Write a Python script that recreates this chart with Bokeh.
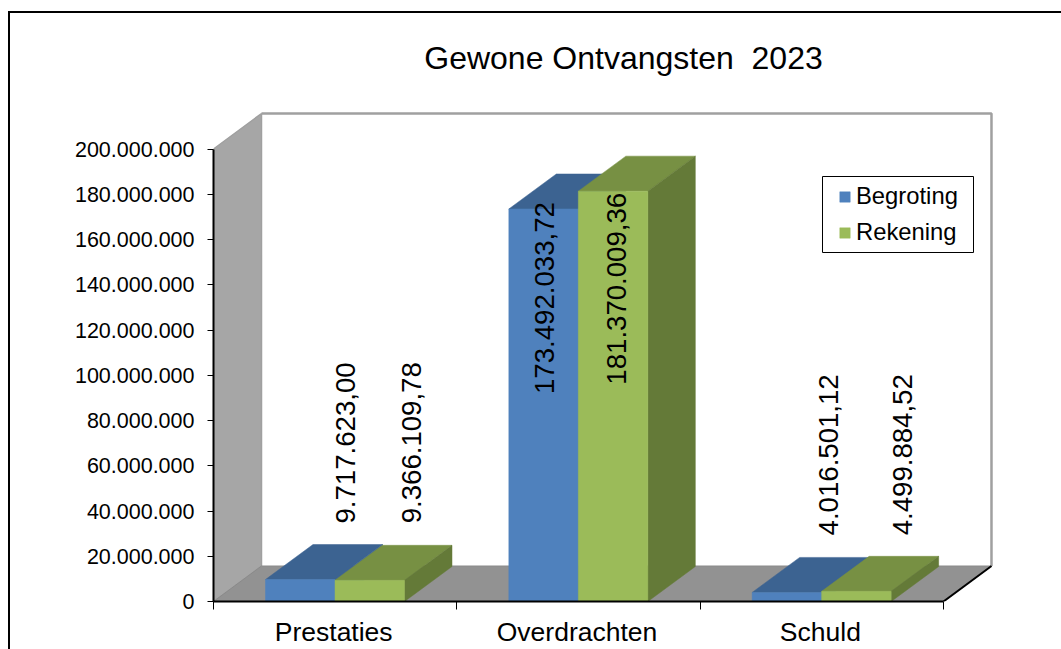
from bokeh.plotting import figure
from bokeh.models import (FixedTicker, Range1d, Legend, LegendItem, InlineStyleSheet)
from bokeh.core.properties import value
from bokeh.embed import file_html
from bokeh.resources import INLINE

# ---- data ----
categories = ["Prestaties", "Overdrachten", "Schuld"]
begroting = [9717623.00, 173492033.72, 4016501.12]
rekening = [9366109.78, 181370009.36, 4499884.52]
y_ticks = [0, 20000000, 40000000, 60000000, 80000000, 100000000,
           120000000, 140000000, 160000000, 180000000, 200000000]
title_text = "Gewone Ontvangsten\u00a0 2023"

# ---- layout (pixels of the page) ----
FONT = "Liberation Sans"
W, H = 1061, 649
LEFT, BOTTOM = 213, 48
PX_PER_CAT = 243.33
PX_PER_Y = 452.5 / 200000000
frame_w, frame_h = W - LEFT, H - BOTTOM
BAR_INSET = 52 / PX_PER_CAT
BAR_W = 69.5 / PX_PER_CAT
DX = 47.5 / PX_PER_CAT
DY = 35.0 / PX_PER_Y
WALL_DX = 48 / PX_PER_CAT
WALL_DY = 35.5 / PX_PER_Y
YMAX = y_ticks[-1]
NCAT = len(categories)

p = figure(width=W, height=H, output_backend="svg", toolbar_location=None,
           x_range=Range1d(0, frame_w / PX_PER_CAT), y_range=Range1d(0, frame_h / PX_PER_Y),
           min_border_left=LEFT, min_border_bottom=BOTTOM, min_border_top=0, min_border_right=0,
           outline_line_color=None, background_fill_color="white", border_fill_color="white")
p.xgrid.visible = False
p.ygrid.visible = False

# outer chart border: only top and left are in the picture
p.stylesheets = [InlineStyleSheet(css=":host::before{content:'';position:absolute;left:8px;top:11px;"
                                      "right:0;bottom:0;border-left:2px solid black;"
                                      "border-top:2px solid black;pointer-events:none;z-index:5}")]

# axes
xa, ya = p.xaxis[0], p.yaxis[0]
ya.ticker = FixedTicker(ticks=y_ticks)
ya.major_label_overrides = {t: f"{t:,}".replace(",", ".") for t in y_ticks}
ya.bounds = (0, YMAX)
ya.axis_line_color = "black"; ya.axis_line_width = 2
ya.major_tick_line_color = "black"; ya.major_tick_line_width = 1
ya.major_tick_out = 6; ya.major_tick_in = 0; ya.minor_tick_line_color = None
ya.major_label_standoff = 13
ya.major_label_text_font = FONT; ya.major_label_text_font_size = "21.5px"
ya.major_label_text_color = "black"

cat_pos = [i + 0.494 for i in range(NCAT)]
xa.ticker = FixedTicker(ticks=cat_pos, minor_ticks=list(range(NCAT + 1)))
xa.major_label_overrides = dict(zip(cat_pos, categories))
xa.bounds = (0, NCAT)
xa.axis_line_color = "black"; xa.axis_line_width = 2
xa.major_tick_line_color = None; xa.major_tick_out = 0; xa.major_tick_in = 0
xa.minor_tick_line_color = "black"; xa.minor_tick_line_width = 1
xa.minor_tick_out = 8; xa.minor_tick_in = 0
xa.major_label_standoff = 7
xa.major_label_text_font = FONT; xa.major_label_text_font_size = "26.5px"
xa.major_label_text_color = "black"
xa.major_label_orientation = "horizontal"

# walls and floor
p.patch([0, WALL_DX, WALL_DX, 0], [0, WALL_DY, YMAX + WALL_DY, YMAX],
        fill_color="#a6a6a6", line_color="#a0a0a0", line_width=1.5)
p.patch([0, WALL_DX, NCAT + WALL_DX, NCAT], [0, WALL_DY, WALL_DY, 0],
        fill_color="#929292", line_color="#8a8a8a", line_width=1)
p.line([WALL_DX, NCAT + WALL_DX, NCAT + WALL_DX],
       [YMAX + WALL_DY, YMAX + WALL_DY, WALL_DY], line_color="#a0a0a0", line_width=2.5)
p.line([NCAT, NCAT + WALL_DX], [0, WALL_DY], line_color="black", line_width=2)


def bars(values, start, front, top, side):
    x0 = [i + BAR_INSET + start * BAR_W for i in range(NCAT)]
    x1 = [x + BAR_W for x in x0]
    p.patches([[a, a + DX, b + DX, b] for a, b in zip(x0, x1)],
              [[v, v + DY, v + DY, v] for v in values],
              fill_color=top, line_color=top, line_width=0.5)
    p.patches([[b, b + DX, b + DX, b] for b in x1],
              [[0, DY, v + DY, v] for v in values],
              fill_color=side, line_color=side, line_width=0.5)
    return p.quad(left=x0, right=x1, bottom=[0] * NCAT, top=values,
                  fill_color=front, line_color=front, line_width=0.5)


r1 = bars(begroting, 0, "#4f81bd", "#3c6391", "#3c6391")
r2 = bars(rekening, 1, "#9bbb59", "#779043", "#647a38")

# data labels (rotated), offsets in pixels from the bar top / bar centre
def nl(v):
    return f"{v:,.2f}".replace(",", "_").replace(".", ",").replace("_", ".")

lab_x = [i + BAR_INSET + s * BAR_W + BAR_W / 2 for s in (0, 1) for i in range(NCAT)]
lab_y = begroting + rekening
lab_t = [nl(v) for v in begroting + rekening]
lab_xoff = [45.5, 1, 42, 42, 3, 46]
lab_yoff = [-56, 185, -57, -57, 193.5, -56]
p.text(x=lab_x, y=lab_y, text=lab_t, x_offset=lab_xoff, y_offset=lab_yoff, angle=1.5708,
       text_font=value(FONT), text_font_size="27.6px", text_align="left",
       text_baseline="middle", text_color="black")

# title
p.text(x=[(623 - 213) / PX_PER_CAT], y=[(601 - 57) / PX_PER_Y], text=[title_text],
       text_font=value(FONT), text_font_size="32px", text_align="center",
       text_baseline="middle", text_color="black")

# legend box, with the legend itself on top
p.quad(left=[(822 - 213) / PX_PER_CAT], right=[(973 - 213) / PX_PER_CAT],
       bottom=[(601 - 252) / PX_PER_Y], top=[(601 - 176) / PX_PER_Y],
       fill_color="white", line_color="black", line_width=1)
leg = Legend(items=[LegendItem(label="Begroting", renderers=[r1]),
                    LegendItem(label="Rekening", renderers=[r2])],
             location=(838 - 213, 607 - 252), orientation="vertical",
             label_text_font=FONT, label_text_font_size="23.8px", label_text_color="black",
             glyph_width=13, glyph_height=13, label_standoff=5, spacing=8,
             padding=5, margin=0, border_line_color=None,
             background_fill_alpha=0, label_height=26)
p.add_layout(leg, "center")

open("out.html", "w").write(file_html(p, INLINE))
